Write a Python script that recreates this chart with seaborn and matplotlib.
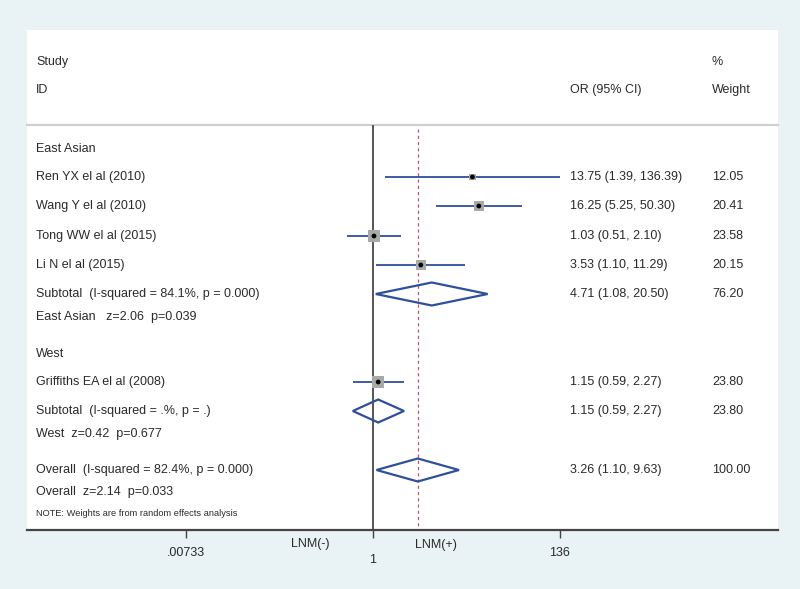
import numpy as np
import pandas as pd
import matplotlib
matplotlib.use("Agg")
import matplotlib.pyplot as plt
import matplotlib.transforms as mtransforms
from matplotlib.patches import Polygon
import seaborn as sns

# ---------------- data ----------------
groups = ["East Asian", "West"]
studies = ["Ren YX el al (2010)", "Wang Y el al (2010)", "Tong WW el al (2015)",
           "Li N el al (2015)", "Griffiths EA el al (2008)"]
study_group = ["East Asian", "East Asian", "East Asian", "East Asian", "West"]
or_vals = [13.75, 16.25, 1.03, 3.53, 1.15]
ci_low = [1.39, 5.25, 0.51, 1.10, 0.59]
ci_high = [136.39, 50.30, 2.10, 11.29, 2.27]
weights = [12.05, 20.41, 23.58, 20.15, 23.80]

pooled_labels = ["Subtotal  (I-squared = 84.1%, p = 0.000)",
                 "Subtotal  (I-squared = .%, p = .)",
                 "Overall  (I-squared = 82.4%, p = 0.000)"]
pooled_or = [4.71, 1.15, 3.26]
pooled_low = [1.08, 0.59, 1.10]
pooled_high = [20.50, 2.27, 9.63]
pooled_weight = [76.20, 23.80, 100.00]
pooled_tests = ["East Asian   z=2.06  p=0.039", "West  z=0.42  p=0.677",
                "Overall  z=2.14  p=0.033"]

tick_values = [0.00733, 1, 136]
tick_labels = [".00733", "1", "136"]
note = "NOTE: Weights are from random effects analysis"

# ---------------- layout ----------------
W, H = 800, 589
BG = "#E9F2F5"
BLUE = "#2D4F9E"
TXT = "#2A2A2A"
FONT = ["Liberation Sans", "DejaVu Sans"]
plt.rcParams["font.family"] = FONT

fig = plt.figure(figsize=(W / 100, H / 100), dpi=100, facecolor=BG)
px_l, px_r, px_t, px_b = 27, 778, 30, 530
ax = fig.add_axes([px_l / W, 1 - px_b / H, (px_r - px_l) / W, (px_b - px_t) / H])
ax.set_facecolor("white")
ax.set_xscale("log")
ax.set_xlim(np.exp(-9.1), np.exp(10.66))
ax.set_ylim(px_b, px_t)  # y in pixel-like row units

# row positions (layout)
group_y = {"East Asian": 149, "West": 354}
study_y = [177, 206, 236, 265, 382]
pooled_y = [294, 411, 470]
test_y = [317, 434, 492]
note_y = 513
header_y = (62, 90)
sep_y = 125

tx = mtransforms.blended_transform_factory(ax.transAxes, ax.transData)
col_label, col_or, col_w = 0.012, 0.723, 0.912
fs = 9

def put(x, y, s, size=fs, **kw):
    ax.text(x, y, s, transform=tx, va="center", fontsize=size, color=TXT, **kw)

# header
put(col_label, header_y[0], "Study")
put(col_label, header_y[1], "ID")
put(col_or, header_y[1], "OR (95% CI)")
put(col_w, header_y[0], "%")
put(col_w, header_y[1], "Weight")
ax.plot([0, 1], [sep_y, sep_y], transform=tx, color="#CFCFCF", lw=1.6, clip_on=False)

# reference lines
ax.vlines(1, sep_y, px_b, color="#555555", lw=1.4, zorder=2)
ax.vlines(pooled_or[-1], sep_y + 4, px_b, color="#C4506E", lw=0.9,
          linestyles=(0, (2.5, 2.5)), zorder=2)

# groups
for g in groups:
    put(col_label, group_y[g], g)

# studies
df = pd.DataFrame({"study": studies, "group": study_group, "OR": or_vals,
                   "lo": ci_low, "hi": ci_high, "w": weights, "y": study_y})
ax.hlines(df["y"], df["lo"], df["hi"], color=BLUE, lw=1.3, zorder=3)
sns.scatterplot(data=df, x="OR", y="y", size="w", sizes=(20, 70), marker="s",
                color="#A9A9A9", edgecolor="none", legend=False, ax=ax, zorder=4)
sns.scatterplot(data=df, x="OR", y="y", marker="o", s=12, color="black",
                edgecolor="none", legend=False, ax=ax, zorder=5)
for _, r in df.iterrows():
    put(col_label, r["y"], r["study"])
    put(col_or, r["y"], f"{r['OR']:.2f} ({r['lo']:.2f}, {r['hi']:.2f})")
    put(col_w, r["y"], f"{r['w']:.2f}")

# pooled diamonds
half_h = 11.5
for lab, est, lo, hi, w, y, t, ty in zip(pooled_labels, pooled_or, pooled_low, pooled_high,
                                         pooled_weight, pooled_y, pooled_tests, test_y):
    poly = Polygon([[lo, y], [est, y - half_h], [hi, y], [est, y + half_h]],
                   closed=True, fill=False, edgecolor=BLUE, lw=1.6, zorder=4)
    ax.add_patch(poly)
    put(col_label, y, lab)
    put(col_label, ty, t)
    put(col_or, y, f"{est:.2f} ({lo:.2f}, {hi:.2f})")
    put(col_w, y, f"{w:.2f}")

put(col_label, note_y, note, size=6.7)

# axes styling
for s in ["top", "left", "right"]:
    ax.spines[s].set_visible(False)
ax.spines["bottom"].set_color("#444444")
ax.spines["bottom"].set_linewidth(1.6)
ax.set_yticks([])
ax.set_xticks(tick_values)
ax.set_xticklabels(tick_labels)
ax.xaxis.set_minor_locator(matplotlib.ticker.NullLocator())
ax.tick_params(axis="x", length=6, width=1.0, color="#444444", labelsize=fs,
               labelcolor=TXT, pad=6)
ax.set_xlabel("")
ax.set_ylabel("")
for lbl, v in zip(ax.get_xticklabels(), tick_values):
    if v == 1:
        lbl.set_transform(lbl.get_transform() +
                          mtransforms.ScaledTranslation(0, -5 / 72, fig.dpi_scale_trans))

# favours labels
bx = mtransforms.blended_transform_factory(ax.transData, ax.transAxes)
ax.text(np.exp((310 - 373) / 38.0), -0.016, "LNM(-)", transform=bx, ha="center", va="top",
        fontsize=fs, color=TXT)
ax.text(np.exp((436 - 373) / 38.0), -0.018, "LNM(+)", transform=bx, ha="center", va="top",
        fontsize=fs, color=TXT)

fig.savefig("out.png", dpi=100, facecolor=BG)
